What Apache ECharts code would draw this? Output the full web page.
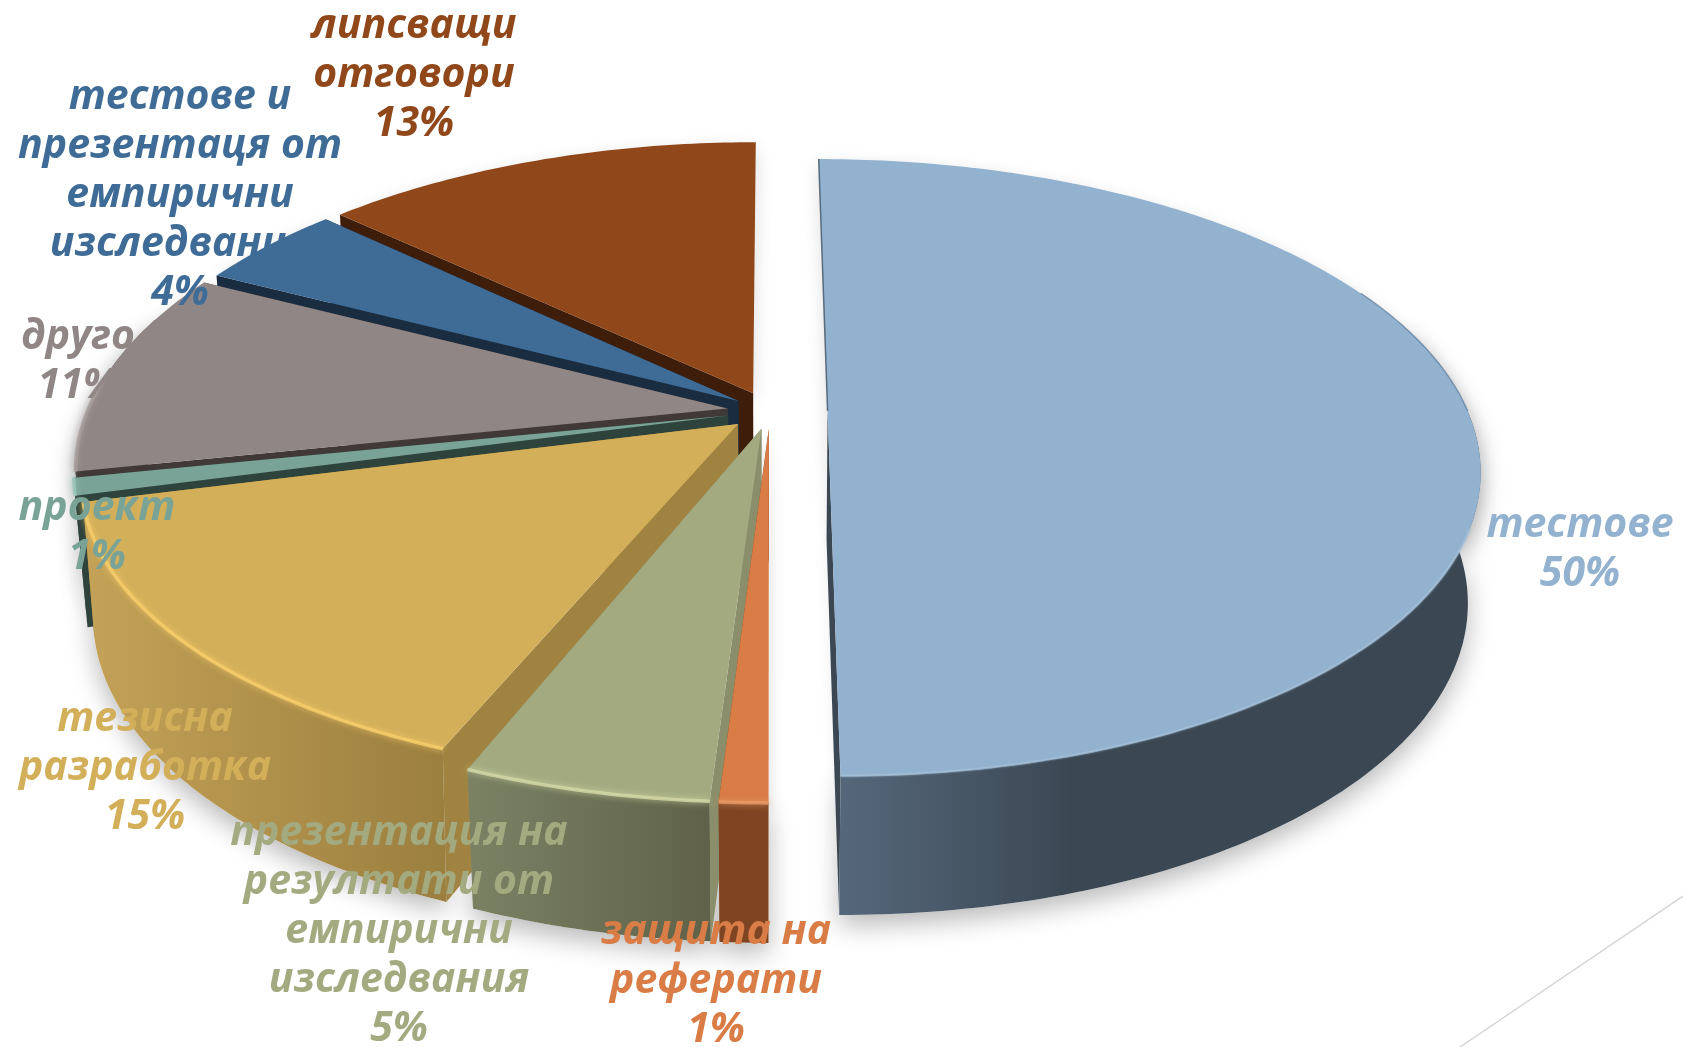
<!DOCTYPE html>
<html><head><meta charset="utf-8">
<style>html,body{margin:0;padding:0;background:#fff;overflow:hidden}#c{width:1683px;height:1047px}</style>
<script src="https://cdn.jsdelivr.net/npm/echarts@6/dist/echarts.min.js"></script>
</head><body><div id="c"></div>
<script>
const categories=["тестове","защита на\nреферати","презентация на\nрезултати от\nемпирични\nизследвания","тезисна\nразработка","проект","друго","тестове и\nпрезентаця от\nемпирични\nизследвания","липсващи\nотговори"];
const values=[50,1,5.1,14.8,0.9,10.6,4.4,13.2];
const topColors=["#92b2cf","#d97c45","#a3aa80","#d3af5a","#7aa397","#918686","#3f6c97","#90481a"];
const sideColors=["#3b4854","#7f4522","#8a8e6a","#a08340","#2f433d","#413938","#1a2d40","#3e1d0a"];
const outerLeft=["#55677a","#7f4522","#7b8264","#c4a257","#2f433d","#413938","#1a2d40","#3e1d0a"];
const outerRight=["#3b4854","#7f4522","#5f6248","#9b7f3f","#2f433d","#413938","#1a2d40","#3e1d0a"];
const rimColors=["#a4bfd8","#e89a66","#d2d7a6","#f6cd6a","#9cc7ba","#a79c9c","#5f8cb5","#a85c2a"];
const explode=[0.09,0.06,0.06,0.066,0.067,0.067,0.06,0.066];
const rimDepth=[1,1,1,0.965,1,1.025,1.03,1.02];
const drawOrder=[7,6,5,4,3,2,1,0];
const labelX=[1580,716,399,145,97,78,180,414];
const labelY=[550,981,931,768,533,362,195,75];
const CX=770,CY=411,R=640,A=298,H=129,K=0.183,SHRINK=0.018,HP=0.38;
const total=values.reduce((a,b)=>a+b,0);
const starts=[];values.reduce((a,v,i)=>{starts[i]=a;return a+v},0);
const rad=p=>p/total*2*Math.PI;
function project(i,th,r,z){
  const mid=rad(starts[i]+values[i]/2),e=explode[i],d=z===0?rimDepth[i]:1;
  const X=r*Math.sin(th)+e*Math.sin(mid),Y=-r*d*Math.cos(th)-e*Math.cos(mid);
  const s=1/(1-K*Y);
  return [CX+R*X*s*(1-SHRINK*z),CY+A*Y*s+H*z*Math.pow(s,HP)];
}
function arcBetween(i,from,to,z){
  const a=Math.max(rad(starts[i]),from),b=Math.min(rad(starts[i]+values[i]),to),out=[];
  if(b<=a)return null;
  const n=Math.max(4,Math.ceil((b-a)/0.015));
  for(let j=0;j<=n;j++)out.push(project(i,a+(b-a)*j/n,1,z));
  return out;
}
function outerWall(i){
  const t=arcBetween(i,Math.PI*0.4,Math.PI*1.6,0);
  return t?t.concat(arcBetween(i,Math.PI*0.4,Math.PI*1.6,1).reverse()):null;
}
function topFace(i){return [project(i,0,0,0)].concat(arcBetween(i,0,Math.PI*2,0));}
function sliceGroup(i){
  const a=rad(starts[i]),b=rad(starts[i]+values[i]);
  const ap0=project(i,0,0,0),ap1=project(i,0,0,1);
  const wall=(th)=>[ap0,ap1,project(i,th,1,1),project(i,th,1,0)];
  const children=[];
  [a,b].forEach(th=>{ if(Math.cos(th)<0.99) children.push({type:'polygon',shape:{points:wall(th)},style:{fill:sideColors[i]}}); });
  const outer=outerWall(i);
  if(outer){
    const xs=outer.map(p=>p[0]);
    const grad=new echarts.graphic.LinearGradient(Math.min(...xs),0,i===0?CX+300:Math.max(...xs),0,[{offset:0,color:outerLeft[i]},{offset:1,color:outerRight[i]}],true);
    children.push({type:'polygon',shape:{points:outer},style:{fill:grad}});
  }
  children.push({type:'polygon',shape:{points:topFace(i)},style:{fill:topColors[i]}});
  const f=arcBetween(i,i===0?Math.PI*0.62:Math.PI*0.46,Math.PI*1.53,0);
  if(f)children.push({type:'polyline',shape:{points:f},style:{fill:null,stroke:rimColors[i],lineWidth:i===0?2:3.5,opacity:i===0?.7:.85,shadowBlur:i===0?2:6,shadowColor:rimColors[i]}});
  if(i===0){
    const back=arcBetween(i,Math.PI*0.36,Math.PI*0.5,0);
    children.push({type:'polyline',shape:{points:back},style:{fill:null,stroke:'#6c8aa7',lineWidth:1.5,opacity:.8}});
    children.push({type:'polyline',shape:{points:[project(i,0,1,0),ap0]},style:{fill:null,stroke:'#47596b',lineWidth:1.5,opacity:.85}});
  }
  return {type:'group',children};
}
function shadowGroup(i){
  const children=[];
  const outer=outerWall(i);
  if(outer)children.push({type:'polygon',shape:{points:outer},style:{fill:'#fff',shadowBlur:26,shadowOffsetY:10,shadowColor:'rgba(0,0,0,.28)'}});
  children.push({type:'polygon',shape:{points:topFace(i)},style:{fill:'#fff',shadowBlur:18,shadowOffsetY:6,shadowColor:'rgba(0,0,0,.14)'}});
  return {type:'group',children};
}
const chart=echarts.init(document.getElementById('c'),null,{renderer:'canvas'});
chart.setOption({
  animation:false,
  backgroundColor:'#fff',
  graphic:[{type:'line',silent:true,z:0,shape:{x1:1683,y1:896,x2:1460,y2:1047},style:{stroke:'#d4d4d4',lineWidth:1.5}}],
  series:[
    {type:'custom',coordinateSystem:'none',silent:true,z:1,data:drawOrder.map(i=>[i]),renderItem:(p,api)=>shadowGroup(api.value(0))},
    {type:'custom',coordinateSystem:'none',silent:true,z:2,data:drawOrder.map(i=>[i,values[i]]),renderItem:(p,api)=>sliceGroup(api.value(0))},
    {type:'custom',coordinateSystem:'none',silent:true,z:3,data:categories.map((c,i)=>[i,values[i]]),renderItem:(p,api)=>{
      const i=api.value(0);
      return {type:'text',x:labelX[i],y:labelY[i],style:{text:categories[i]+"\n"+Math.round(api.value(1))+"%",fill:topColors[i],font:'italic bold 41px "Open Sans"',lineHeight:49,align:'center',verticalAlign:'middle'}};
    }}
  ]
});
</script></body></html>
